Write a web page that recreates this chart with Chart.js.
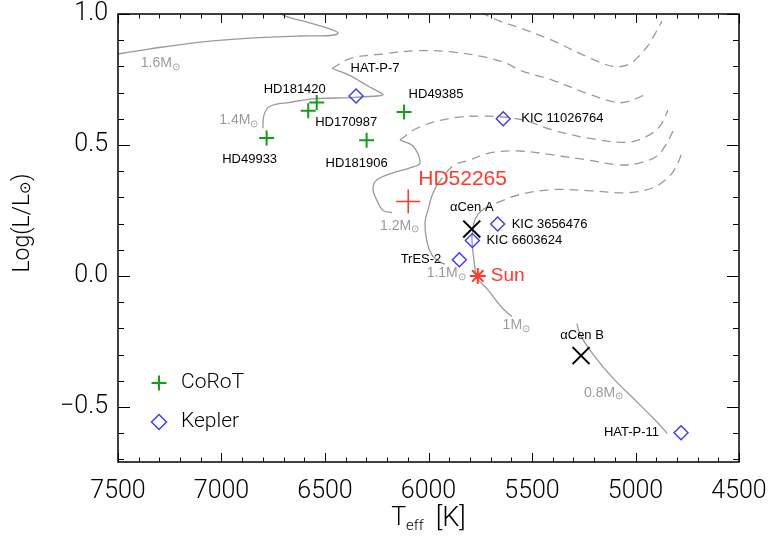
<!DOCTYPE html>
<html>
<head>
<meta charset="utf-8">
<title>HR diagram</title>
<script src="https://cdn.jsdelivr.net/npm/chart.js"></script>
<style>
  body { margin: 0; background: #fff; }
  #wrap { width: 770px; height: 536px; }
</style>
</head>
<body>
<div id="wrap"><canvas id="hr" width="770" height="536"></canvas></div>
<script>
// Axis ticks
const xTickLabels = [7500, 7000, 6500, 6000, 5500, 5000, 4500];
const yTickLabels = [-0.5, 0.0, 0.5, 1.0];

// CoRoT targets
const corotNames = ['HD49933', 'HD181420', 'HD170987', 'HD181906', 'HD49385'];
const corotTeff = [6782, 6540, 6581, 6299, 6118];
const corotLogL = [0.527, 0.662, 0.631, 0.518, 0.626];

// Kepler targets
const keplerNames = ['HAT-P-7', 'KIC 11026764', 'KIC 3656476', 'KIC 6603624', 'TrES-2', 'HAT-P-11'];
const keplerTeff = [6350, 5639, 5666, 5788, 5851, 4780];
const keplerLogL = [0.687, 0.600, 0.198, 0.135, 0.062, -0.598];

// alpha Centauri pair
const acenNames = ['\u03b1Cen A', '\u03b1Cen B'];
const acenTeff = [5791, 5263];
const acenLogL = [0.179, -0.304];

// HD52265 and the Sun
const hdNames = ['HD52265'];
const hdTeff = [6098];
const hdLogL = [0.284];
const sunNames = ['Sun'];
const sunTeff = [5762];
const sunLogL = [0.0];

// Evolutionary tracks: main sequence (solid) and later phase (dashed)
const m16Teff = [7510, 7345, 7104, 6862, 6621, 6476, 6437, 6476, 6587, 6684, 6745];
const m16LogL = [0.846, 0.867, 0.893, 0.908, 0.916, 0.918, 0.927, 0.943, 0.969, 0.990, 1.015];
const m16PostTeff = [5750, 5655, 5558, 5399, 5234, 5109, 5027, 4944, 4906, 4872];
const m16PostLogL = [1.007, 0.973, 0.947, 0.898, 0.837, 0.800, 0.810, 0.875, 0.924, 0.973];

const m14Teff = [6800, 6795, 6766, 6669, 6558, 6379, 6234, 6220, 6297, 6379, 6466];
const m14LogL = [0.564, 0.614, 0.648, 0.663, 0.676, 0.681, 0.688, 0.693, 0.727, 0.765, 0.792];
const m14PostTeff = [6466, 6379, 6220, 6056, 5896, 5737, 5621, 5558, 5399, 5234, 5089, 5012, 4944];
const m14PostLogL = [0.792, 0.830, 0.848, 0.860, 0.856, 0.837, 0.811, 0.785, 0.747, 0.697, 0.662, 0.672, 0.697];

const m12Teff = [6176, 6220, 6244, 6268, 6249, 6172, 6089, 6041, 6075, 6138];
const m12LogL = [0.242, 0.250, 0.280, 0.330, 0.367, 0.394, 0.413, 0.432, 0.496, 0.519];
const m12PostTeff = [6138, 6056, 5896, 5737, 5558, 5399, 5234, 5041, 4944, 4882, 4843];
const m12PostLogL = [0.519, 0.564, 0.602, 0.610, 0.598, 0.557, 0.527, 0.510, 0.534, 0.572, 0.633];

const m11Teff = [5920, 5944, 5983, 6007, 6017, 6002, 5983, 5959];
const m11LogL = [0.045, 0.053, 0.080, 0.129, 0.205, 0.254, 0.307, 0.348];
const m11PostTeff = [5959, 5882, 5800, 5703, 5558, 5399, 5234, 5075, 4978, 4896, 4848, 4819];
const m11PostLogL = [0.348, 0.420, 0.443, 0.470, 0.477, 0.462, 0.443, 0.424, 0.432, 0.458, 0.508, 0.553];

const m10Teff = [5597, 5640, 5669, 5717, 5766, 5775, 5785, 5790, 5780, 5761, 5737];
const m10LogL = [-0.155, -0.125, -0.098, -0.049, -0.008, 0.027, 0.091, 0.148, 0.205, 0.235, 0.254];
const m10PostTeff = [5737, 5655, 5558, 5399, 5234, 5041, 4915, 4833, 4795, 4771];
const m10PostLogL = [0.254, 0.284, 0.311, 0.330, 0.326, 0.318, 0.337, 0.383, 0.432, 0.481];

const m08Teff = [4848, 4857, 4915, 5012, 5109, 5205, 5268, 5283];
const m08LogL = [-0.602, -0.591, -0.542, -0.466, -0.390, -0.299, -0.223, -0.182];

// Mass labels next to the tracks
const massLabels = ['1.6M', '1.4M', '1.2M', '1.1M', '1M', '0.8M'];
const massLabelTeff = [7390, 7011, 6234, 6009, 5642, 5249];
const massLabelLogL = [0.811, 0.594, 0.192, 0.009, -0.189, -0.446];

const FONT = '"Liberation Sans", Arial, sans-serif';
const AXIS_FONT = 'Roboto, "Liberation Sans", sans-serif';
const GREEN = '#12a012';
const BLUE = '#3a3af5';
const RED = '#ff3a2a';
const GREY = '#9a9a9a';

// name label placement around each marker: dx, dy (px), alignment
const labelOffsets = {
  'HD49933': [-17, 22, 'center'],
  'HD181420': [-22, -13, 'center'],
  'HD170987': [38, 12, 'center'],
  'HD181906': [-10, 23, 'center'],
  'HD49385': [32, -18, 'center'],
  'HAT-P-7': [19, -28, 'center'],
  'KIC 11026764': [18, 0, 'left'],
  'KIC 3656476': [14, 0, 'left'],
  'KIC 6603624': [14, 0, 'left'],
  'TrES-2': [-18, 0, 'right'],
  'HAT-P-11': [-22, 0, 'right'],
  '\u03b1Cen A': [0, -22, 'center'],
  '\u03b1Cen B': [1, -20, 'center'],
  'HD52265': [10, -22, 'left'],
  'Sun': [13, 0, 'left']
};

function pairs(xs, ys) {
  return xs.map((x, i) => ({ x: x, y: ys[i] }));
}

function trackSet(xs, ys, dashed) {
  return {
    data: pairs(xs, ys),
    showLine: true,
    pointRadius: 0,
    borderColor: GREY,
    borderWidth: 1.3,
    borderDash: dashed ? [9, 6] : [],
    tension: 0.35,
    fill: false
  };
}

function markerSet(xs, ys, style, radius, color, width) {
  return {
    data: pairs(xs, ys),
    showLine: false,
    pointStyle: style,
    pointRadius: radius,
    pointHoverRadius: radius,
    pointBorderColor: color,
    pointBackgroundColor: 'rgba(0,0,0,0)',
    pointBorderWidth: width
  };
}

// draws a run of text pieces [text, size, shift, gapAfter] one after another
function drawRich(ctx, parts, x, y, align, family, weight) {
  const fam = family || FONT;
  const w = weight || 'normal';
  let total = 0;
  parts.forEach(p => {
    ctx.font = w + ' ' + p[1] + 'px ' + fam;
    total += ctx.measureText(p[0]).width + (p[3] || 0);
  });
  let cx = align === 'center' ? x - total / 2 : (align === 'right' ? x - total : x);
  ctx.textAlign = 'left';
  parts.forEach(p => {
    ctx.font = w + ' ' + p[1] + 'px ' + fam;
    ctx.fillText(p[0], cx, y + (p[2] || 0));
    cx += ctx.measureText(p[0]).width + (p[3] || 0);
  });
}

const hrDecor = {
  id: 'hrDecor',
  afterDatasetsDraw(chart) {
    const ctx = chart.ctx;
    const xs = chart.scales.x;
    const ys = chart.scales.y;
    const a = chart.chartArea;
    ctx.save();

    // inward ticks on all four sides
    ctx.strokeStyle = '#000';
    ctx.lineWidth = 1;
    ctx.beginPath();
    for (let t = 4500; t <= 7500; t += 100) {
      const px = Math.round(xs.getPixelForValue(t)) + 0.5;
      const len = t % 500 === 0 ? 9 : 4.5;
      ctx.moveTo(px, a.bottom); ctx.lineTo(px, a.bottom - len);
      ctx.moveTo(px, a.top); ctx.lineTo(px, a.top + len);
    }
    for (let k = -7; k <= 10; k++) {
      const py = Math.round(ys.getPixelForValue(k / 10)) + 0.5;
      const len = k % 5 === 0 ? 12 : 6;
      ctx.moveTo(a.left, py); ctx.lineTo(a.left + len, py);
      ctx.moveTo(a.right, py); ctx.lineTo(a.right - len, py);
    }
    ctx.stroke();

    ctx.lineWidth = 1.5;
    ctx.strokeRect(a.left, a.top, a.right - a.left, a.bottom - a.top);

    // star names
    ctx.textBaseline = 'middle';
    const groups = [
      [corotNames, corotTeff, corotLogL, '#000', 13],
      [keplerNames, keplerTeff, keplerLogL, '#000', 13],
      [acenNames, acenTeff, acenLogL, '#000', 13],
      [hdNames, hdTeff, hdLogL, RED, 21],
      [sunNames, sunTeff, sunLogL, RED, 19]
    ];
    groups.forEach(g => {
      g[0].forEach((name, i) => {
        const off = labelOffsets[name];
        ctx.fillStyle = g[3];
        drawRich(ctx, [[name, g[4], 0]],
          xs.getPixelForValue(g[1][i]) + off[0],
          ys.getPixelForValue(g[2][i]) + off[1], off[2]);
      });
    });

    // track masses
    ctx.fillStyle = GREY;
    massLabels.forEach((m, i) => {
      drawRich(ctx, [[m, 14, 0], ['\u2299', 10, 3.5]],
        xs.getPixelForValue(massLabelTeff[i]), ys.getPixelForValue(massLabelLogL[i]), 'left');
    });

    // legend
    const lx = a.left + 41;
    const ly1 = a.bottom - 79;
    const ly2 = a.bottom - 40;
    ctx.lineWidth = 2;
    ctx.strokeStyle = GREEN;
    ctx.beginPath();
    ctx.moveTo(lx - 7.5, ly1); ctx.lineTo(lx + 7.5, ly1);
    ctx.moveTo(lx, ly1 - 7.5); ctx.lineTo(lx, ly1 + 7.5);
    ctx.stroke();
    ctx.lineWidth = 1.4;
    ctx.strokeStyle = BLUE;
    ctx.beginPath();
    ctx.moveTo(lx - 7.5, ly2); ctx.lineTo(lx, ly2 - 7.5);
    ctx.lineTo(lx + 7.5, ly2); ctx.lineTo(lx, ly2 + 7.5);
    ctx.closePath();
    ctx.stroke();
    ctx.fillStyle = '#000';
    drawRich(ctx, [['CoRoT', 21, 0]], lx + 22, ly1, 'left', AXIS_FONT, '300');
    drawRich(ctx, [['Kepler', 21, 0]], lx + 22, ly2, 'left', AXIS_FONT, '300');

    // axis titles
    const midX = (a.left + a.right) / 2;
    drawRich(ctx, [['T', 25, 0], ['eff', 15, 7, 12], ['[K]', 27, 0]], midX, 519, 'center', AXIS_FONT, '300');
    ctx.translate(23, 223);
    ctx.rotate(-Math.PI / 2);
    drawRich(ctx, [['Log(L/L', 23, 0], ['\u2299', 15, 3], [')', 23, 0]], 0, 0, 'center', AXIS_FONT, '300');

    ctx.restore();
  }
};

const ctx = document.getElementById('hr').getContext('2d');

new Chart(ctx, {
  type: 'scatter',
  data: {
    datasets: [
      markerSet(sunTeff, sunLogL, 'star', 8, RED, 2),
      markerSet(hdTeff, hdLogL, 'cross', 12, RED, 1.5),
      markerSet(acenTeff, acenLogL, 'crossRot', 12, '#000', 2),
      markerSet(keplerTeff, keplerLogL, 'rectRot', 7, BLUE, 1.4),
      markerSet(corotTeff, corotLogL, 'cross', 7.5, GREEN, 2),
      trackSet(m16Teff, m16LogL, false),
      trackSet(m16PostTeff, m16PostLogL, true),
      trackSet(m14Teff, m14LogL, false),
      trackSet(m14PostTeff, m14PostLogL, true),
      trackSet(m12Teff, m12LogL, false),
      trackSet(m12PostTeff, m12PostLogL, true),
      trackSet(m11Teff, m11LogL, false),
      trackSet(m11PostTeff, m11PostLogL, true),
      trackSet(m10Teff, m10LogL, false),
      trackSet(m10PostTeff, m10PostLogL, true),
      trackSet(m08Teff, m08LogL, false)
    ]
  },
  options: {
    responsive: false,
    animation: false,
    events: [],
    layout: { padding: { left: 0, right: 31, top: 10, bottom: 0 } },
    plugins: {
      legend: { display: false },
      tooltip: { enabled: false }
    },
    scales: {
      x: {
        type: 'linear',
        reverse: true,
        min: 4500,
        max: 7500,
        grid: { display: false, drawTicks: false },
        border: { display: false },
        afterBuildTicks: s => { s.ticks = xTickLabels.map(v => ({ value: v })); },
        afterFit: s => { s.height = 74; s.paddingLeft = 0; s.paddingRight = 0; },
        ticks: {
          autoSkip: false,
          maxRotation: 0,
          padding: 15,
          color: '#000',
          font: { family: AXIS_FONT, size: 25, weight: '300' },
          callback: v => String(v)
        }
      },
      y: {
        type: 'linear',
        min: -0.71,
        max: 1.0,
        grid: { display: false, drawTicks: false },
        border: { display: false },
        afterBuildTicks: s => { s.ticks = yTickLabels.map(v => ({ value: v })); },
        afterFit: s => { s.width = 118; s.paddingTop = 0; s.paddingBottom = 0; },
        ticks: {
          autoSkip: false,
          padding: 10,
          color: '#000',
          font: { family: AXIS_FONT, size: 25, weight: '300' },
          callback: v => Number(v).toFixed(1).replace('-', '\u2212')
        }
      }
    }
  },
  plugins: [hrDecor]
});
</script>
</body>
</html>
